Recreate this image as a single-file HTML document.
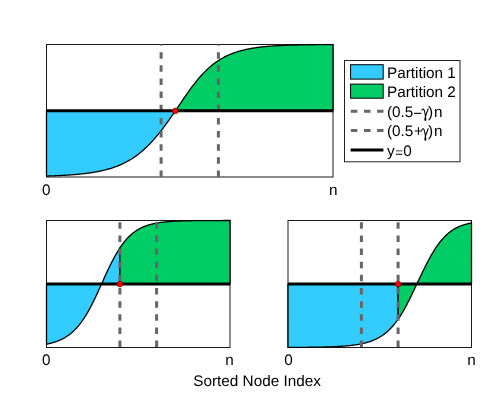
<!DOCTYPE html>
<html><head><meta charset="utf-8"><title>Partition figure</title>
<style>
html,body{margin:0;padding:0;background:#fff;}
body{width:498px;height:405px;overflow:hidden;font-family:"Liberation Sans",sans-serif;}
svg{display:block;}
</style></head><body>
<svg width="498" height="405" viewBox="0 0 498 405">
<rect width="498" height="405" fill="#fff"/>
<rect x="46.50" y="44.50" width="286.50" height="132.50" fill="#fff" stroke="#1a1a1a" stroke-width="1"/>
<path d="M46.50 110.75 L46.50 176.06 L47.31 176.03 L48.11 176.01 L48.92 175.98 L49.72 175.96 L50.53 175.93 L51.33 175.90 L52.14 175.87 L52.95 175.84 L53.75 175.81 L54.56 175.78 L55.36 175.74 L56.17 175.71 L56.98 175.67 L57.78 175.64 L58.59 175.60 L59.39 175.56 L60.20 175.52 L61.00 175.48 L61.81 175.44 L62.62 175.40 L63.42 175.35 L64.23 175.31 L65.03 175.26 L65.84 175.21 L66.64 175.16 L67.45 175.11 L68.26 175.06 L69.06 175.01 L69.87 174.95 L70.67 174.89 L71.48 174.83 L72.28 174.77 L73.09 174.71 L73.90 174.65 L74.70 174.58 L75.51 174.51 L76.31 174.44 L77.12 174.37 L77.93 174.30 L78.73 174.22 L79.54 174.14 L80.34 174.06 L81.15 173.97 L81.95 173.89 L82.76 173.80 L83.57 173.71 L84.37 173.61 L85.18 173.52 L85.98 173.42 L86.79 173.31 L87.59 173.21 L88.40 173.10 L89.21 172.99 L90.01 172.87 L90.82 172.75 L91.62 172.63 L92.43 172.50 L93.24 172.37 L94.04 172.24 L94.85 172.10 L95.65 171.95 L96.46 171.81 L97.26 171.66 L98.07 171.50 L98.88 171.34 L99.68 171.18 L100.49 171.01 L101.29 170.83 L102.10 170.65 L102.90 170.46 L103.71 170.27 L104.52 170.08 L105.32 169.87 L106.13 169.67 L106.93 169.45 L107.74 169.23 L108.55 169.00 L109.35 168.77 L110.16 168.53 L110.96 168.28 L111.77 168.02 L112.57 167.76 L113.38 167.49 L114.19 167.21 L114.99 166.93 L115.80 166.63 L116.60 166.33 L117.41 166.02 L118.21 165.70 L119.02 165.37 L119.83 165.03 L120.63 164.68 L121.44 164.33 L122.24 163.96 L123.05 163.58 L123.86 163.19 L124.66 162.79 L125.47 162.38 L126.27 161.96 L127.08 161.53 L127.88 161.09 L128.69 160.63 L129.50 160.17 L130.30 159.69 L131.11 159.20 L131.91 158.69 L132.72 158.18 L133.52 157.65 L134.33 157.10 L135.14 156.55 L135.94 155.97 L136.75 155.39 L137.55 154.79 L138.36 154.18 L139.16 153.55 L139.97 152.91 L140.78 152.25 L141.58 151.58 L142.39 150.90 L143.19 150.19 L144.00 149.48 L144.81 148.75 L145.61 148.00 L146.42 147.24 L147.22 146.46 L148.03 145.66 L148.83 144.85 L149.64 144.03 L150.45 143.19 L151.25 142.33 L152.06 141.46 L152.86 140.58 L153.67 139.67 L154.47 138.76 L155.28 137.83 L156.09 136.88 L156.89 135.92 L157.70 134.95 L158.50 133.96 L159.31 132.96 L160.12 131.94 L160.92 130.91 L161.73 129.87 L162.53 128.82 L163.34 127.76 L164.14 126.68 L164.95 125.59 L165.76 124.50 L166.56 123.39 L167.37 122.28 L168.17 121.15 L168.98 120.02 L169.78 118.88 L170.59 117.73 L171.40 116.58 L172.20 115.42 L173.01 114.26 L173.81 113.09 L174.62 111.92 L175.43 110.75 L175.43 110.75 Z" fill="#33ccff" stroke="#000" stroke-width="1.3" stroke-linejoin="round"/>
<path d="M175.43 110.75 L175.43 110.75 L176.41 109.31 L177.39 107.87 L178.38 106.42 L179.36 104.96 L180.35 103.51 L181.33 102.06 L182.32 100.61 L183.30 99.16 L184.29 97.72 L185.27 96.29 L186.26 94.86 L187.24 93.45 L188.23 92.06 L189.21 90.68 L190.20 89.31 L191.18 87.97 L192.17 86.65 L193.15 85.34 L194.14 84.06 L195.12 82.80 L196.11 81.57 L197.09 80.36 L198.08 79.17 L199.06 78.01 L200.05 76.88 L201.03 75.77 L202.02 74.69 L203.00 73.64 L203.99 72.62 L204.97 71.62 L205.96 70.65 L206.94 69.70 L207.92 68.78 L208.91 67.89 L209.89 67.03 L210.88 66.19 L211.86 65.37 L212.85 64.58 L213.83 63.82 L214.82 63.08 L215.80 62.37 L216.79 61.67 L217.77 61.01 L218.76 60.36 L219.74 59.74 L220.73 59.13 L221.71 58.55 L222.70 57.99 L223.68 57.45 L224.67 56.93 L225.65 56.43 L226.64 55.94 L227.62 55.48 L228.61 55.03 L229.59 54.60 L230.58 54.18 L231.56 53.78 L232.55 53.40 L233.53 53.03 L234.52 52.67 L235.50 52.33 L236.49 52.00 L237.47 51.69 L238.46 51.39 L239.44 51.09 L240.42 50.82 L241.41 50.55 L242.39 50.29 L243.38 50.05 L244.36 49.81 L245.35 49.58 L246.33 49.37 L247.32 49.16 L248.30 48.96 L249.29 48.77 L250.27 48.58 L251.26 48.41 L252.24 48.24 L253.23 48.08 L254.21 47.92 L255.20 47.77 L256.18 47.63 L257.17 47.50 L258.15 47.37 L259.14 47.24 L260.12 47.12 L261.11 47.01 L262.09 46.90 L263.08 46.80 L264.06 46.69 L265.05 46.60 L266.03 46.51 L267.02 46.42 L268.00 46.34 L268.99 46.26 L269.97 46.18 L270.95 46.10 L271.94 46.03 L272.92 45.97 L273.91 45.90 L274.89 45.84 L275.88 45.78 L276.86 45.73 L277.85 45.67 L278.83 45.62 L279.82 45.57 L280.80 45.52 L281.79 45.48 L282.77 45.44 L283.76 45.39 L284.74 45.36 L285.73 45.32 L286.71 45.28 L287.70 45.25 L288.68 45.21 L289.67 45.18 L290.65 45.15 L291.64 45.12 L292.62 45.10 L293.61 45.07 L294.59 45.04 L295.58 45.02 L296.56 45.00 L297.55 44.98 L298.53 44.95 L299.52 44.93 L300.50 44.92 L301.49 44.90 L302.47 44.88 L303.45 44.86 L304.44 44.85 L305.42 44.83 L306.41 44.82 L307.39 44.80 L308.38 44.79 L309.36 44.78 L310.35 44.76 L311.33 44.75 L312.32 44.74 L313.30 44.73 L314.29 44.72 L315.27 44.71 L316.26 44.70 L317.24 44.69 L318.23 44.68 L319.21 44.68 L320.20 44.67 L321.18 44.66 L322.17 44.65 L323.15 44.65 L324.14 44.64 L325.12 44.63 L326.11 44.63 L327.09 44.62 L328.08 44.62 L329.06 44.61 L330.05 44.61 L331.03 44.60 L332.02 44.60 L333.00 44.59 L333.00 110.75 Z" fill="#00cc66" stroke="#000" stroke-width="1.3" stroke-linejoin="round"/>
<line x1="161.10" y1="177.00" x2="161.10" y2="44.50" stroke="#666666" stroke-width="3" stroke-dasharray="6.5 6.65"/>
<line x1="218.40" y1="177.00" x2="218.40" y2="44.50" stroke="#666666" stroke-width="3" stroke-dasharray="6.5 6.65"/>
<line x1="46.50" y1="110.75" x2="333.00" y2="110.75" stroke="#000" stroke-width="3"/>
<circle cx="175.43" cy="110.85" r="2.85" fill="#ff0000" stroke="#600" stroke-width="0.6"/>
<rect x="46.50" y="220.50" width="183.50" height="127.00" fill="#fff" stroke="#1a1a1a" stroke-width="1"/>
<path d="M46.50 284.00 L46.50 344.18 L46.96 344.09 L47.42 343.99 L47.88 343.90 L48.34 343.80 L48.79 343.69 L49.25 343.59 L49.71 343.48 L50.17 343.37 L50.63 343.25 L51.09 343.14 L51.55 343.01 L52.01 342.89 L52.46 342.76 L52.92 342.63 L53.38 342.49 L53.84 342.35 L54.30 342.21 L54.76 342.06 L55.22 341.91 L55.67 341.76 L56.13 341.60 L56.59 341.43 L57.05 341.26 L57.51 341.09 L57.97 340.91 L58.43 340.73 L58.89 340.54 L59.34 340.35 L59.80 340.15 L60.26 339.95 L60.72 339.74 L61.18 339.52 L61.64 339.30 L62.10 339.07 L62.56 338.84 L63.02 338.60 L63.47 338.35 L63.93 338.10 L64.39 337.84 L64.85 337.58 L65.31 337.30 L65.77 337.02 L66.23 336.74 L66.69 336.44 L67.14 336.14 L67.60 335.83 L68.06 335.51 L68.52 335.18 L68.98 334.85 L69.44 334.51 L69.90 334.15 L70.36 333.79 L70.81 333.42 L71.27 333.04 L71.73 332.66 L72.19 332.26 L72.65 331.85 L73.11 331.43 L73.57 331.01 L74.03 330.57 L74.48 330.12 L74.94 329.66 L75.40 329.20 L75.86 328.72 L76.32 328.23 L76.78 327.72 L77.24 327.21 L77.70 326.69 L78.15 326.15 L78.61 325.61 L79.07 325.05 L79.53 324.48 L79.99 323.89 L80.45 323.30 L80.91 322.69 L81.37 322.08 L81.82 321.45 L82.28 320.80 L82.74 320.15 L83.20 319.48 L83.66 318.80 L84.12 318.11 L84.58 317.40 L85.03 316.69 L85.49 315.96 L85.95 315.22 L86.41 314.46 L86.87 313.69 L87.33 312.92 L87.79 312.13 L88.25 311.32 L88.71 310.51 L89.16 309.68 L89.62 308.85 L90.08 308.00 L90.54 307.14 L91.00 306.27 L91.46 305.39 L91.92 304.50 L92.38 303.60 L92.83 302.69 L93.29 301.76 L93.75 300.83 L94.21 299.90 L94.67 298.95 L95.13 297.99 L95.59 297.03 L96.05 296.06 L96.50 295.08 L96.96 294.10 L97.42 293.11 L97.88 292.11 L98.34 291.11 L98.80 290.10 L99.26 289.09 L99.72 288.08 L100.17 287.06 L100.63 286.04 L101.09 285.02 L101.55 284.00 L102.01 282.98 L102.47 281.95 L102.93 280.93 L103.38 279.91 L103.84 278.89 L104.30 277.88 L104.76 276.86 L105.22 275.85 L105.68 274.85 L106.14 273.85 L106.60 272.85 L107.06 271.86 L107.51 270.88 L107.97 269.90 L108.43 268.93 L108.89 267.97 L109.35 267.02 L109.81 266.07 L110.27 265.13 L110.72 264.20 L111.18 263.28 L111.64 262.37 L112.10 261.47 L112.56 260.58 L113.02 259.70 L113.48 258.84 L113.94 257.98 L114.39 257.13 L114.85 256.30 L115.31 255.47 L115.77 254.66 L116.23 253.86 L116.69 253.08 L117.15 252.30 L117.61 251.54 L118.06 250.79 L118.52 250.05 L118.98 249.33 L119.44 248.61 L119.90 247.91 L119.90 284.00 Z" fill="#33ccff" stroke="#000" stroke-width="1.3" stroke-linejoin="round"/>
<path d="M119.90 284.00 L119.90 247.91 L120.59 246.89 L121.28 245.89 L121.96 244.92 L122.65 243.98 L123.34 243.07 L124.03 242.19 L124.72 241.33 L125.41 240.50 L126.09 239.70 L126.78 238.92 L127.47 238.18 L128.16 237.45 L128.85 236.75 L129.53 236.08 L130.22 235.43 L130.91 234.81 L131.60 234.20 L132.29 233.62 L132.97 233.06 L133.66 232.53 L134.35 232.01 L135.04 231.51 L135.73 231.04 L136.41 230.58 L137.10 230.14 L137.79 229.72 L138.48 229.31 L139.17 228.92 L139.86 228.55 L140.54 228.19 L141.23 227.85 L141.92 227.52 L142.61 227.21 L143.30 226.91 L143.98 226.62 L144.67 226.34 L145.36 226.08 L146.05 225.83 L146.74 225.59 L147.43 225.36 L148.11 225.13 L148.80 224.92 L149.49 224.72 L150.18 224.53 L150.87 224.34 L151.55 224.17 L152.24 224.00 L152.93 223.84 L153.62 223.68 L154.31 223.54 L154.99 223.40 L155.68 223.26 L156.37 223.14 L157.06 223.01 L157.75 222.90 L158.44 222.79 L159.12 222.68 L159.81 222.58 L160.50 222.48 L161.19 222.39 L161.88 222.30 L162.56 222.22 L163.25 222.14 L163.94 222.06 L164.63 221.99 L165.32 221.92 L166.00 221.85 L166.69 221.79 L167.38 221.73 L168.07 221.67 L168.76 221.62 L169.44 221.56 L170.13 221.51 L170.82 221.47 L171.51 221.42 L172.20 221.38 L172.89 221.34 L173.57 221.30 L174.26 221.26 L174.95 221.23 L175.64 221.19 L176.33 221.16 L177.01 221.13 L177.70 221.10 L178.39 221.07 L179.08 221.04 L179.77 221.02 L180.45 220.99 L181.14 220.97 L181.83 220.95 L182.52 220.93 L183.21 220.91 L183.90 220.89 L184.58 220.87 L185.27 220.85 L185.96 220.84 L186.65 220.82 L187.34 220.80 L188.02 220.79 L188.71 220.78 L189.40 220.76 L190.09 220.75 L190.78 220.74 L191.47 220.73 L192.15 220.72 L192.84 220.71 L193.53 220.70 L194.22 220.69 L194.91 220.68 L195.59 220.67 L196.28 220.66 L196.97 220.65 L197.66 220.65 L198.35 220.64 L199.03 220.63 L199.72 220.63 L200.41 220.62 L201.10 220.62 L201.79 220.61 L202.48 220.61 L203.16 220.60 L203.85 220.60 L204.54 220.59 L205.23 220.59 L205.92 220.58 L206.60 220.58 L207.29 220.58 L207.98 220.57 L208.67 220.57 L209.36 220.56 L210.04 220.56 L210.73 220.56 L211.42 220.56 L212.11 220.55 L212.80 220.55 L213.49 220.55 L214.17 220.55 L214.86 220.54 L215.55 220.54 L216.24 220.54 L216.93 220.54 L217.61 220.54 L218.30 220.53 L218.99 220.53 L219.68 220.53 L220.37 220.53 L221.05 220.53 L221.74 220.53 L222.43 220.53 L223.12 220.52 L223.81 220.52 L224.50 220.52 L225.18 220.52 L225.87 220.52 L226.56 220.52 L227.25 220.52 L227.94 220.52 L228.62 220.52 L229.31 220.52 L230.00 220.52 L230.00 284.00 Z" fill="#00cc66" stroke="#000" stroke-width="1.3" stroke-linejoin="round"/>
<line x1="119.90" y1="347.10" x2="119.90" y2="220.50" stroke="#666666" stroke-width="3" stroke-dasharray="6.5 6.65"/>
<line x1="156.60" y1="347.10" x2="156.60" y2="220.50" stroke="#666666" stroke-width="3" stroke-dasharray="6.5 6.65"/>
<line x1="46.50" y1="284.00" x2="230.00" y2="284.00" stroke="#000" stroke-width="3"/>
<circle cx="119.90" cy="284.10" r="2.85" fill="#ff0000" stroke="#600" stroke-width="0.6"/>
<rect x="288.00" y="220.50" width="183.50" height="127.00" fill="#fff" stroke="#1a1a1a" stroke-width="1"/>
<path d="M288.00 284.00 L288.00 347.41 L288.69 347.41 L289.38 347.41 L290.06 347.40 L290.75 347.40 L291.44 347.40 L292.13 347.39 L292.82 347.39 L293.50 347.39 L294.19 347.38 L294.88 347.38 L295.57 347.38 L296.26 347.37 L296.95 347.37 L297.63 347.36 L298.32 347.36 L299.01 347.35 L299.70 347.35 L300.39 347.34 L301.07 347.34 L301.76 347.33 L302.45 347.33 L303.14 347.32 L303.83 347.32 L304.51 347.31 L305.20 347.31 L305.89 347.30 L306.58 347.29 L307.27 347.29 L307.96 347.28 L308.64 347.27 L309.33 347.26 L310.02 347.26 L310.71 347.25 L311.40 347.24 L312.08 347.23 L312.77 347.22 L313.46 347.21 L314.15 347.20 L314.84 347.19 L315.52 347.18 L316.21 347.17 L316.90 347.16 L317.59 347.15 L318.28 347.13 L318.97 347.12 L319.65 347.11 L320.34 347.09 L321.03 347.08 L321.72 347.06 L322.41 347.05 L323.09 347.03 L323.78 347.02 L324.47 347.00 L325.16 346.98 L325.85 346.96 L326.54 346.94 L327.22 346.92 L327.91 346.90 L328.60 346.88 L329.29 346.86 L329.98 346.83 L330.66 346.81 L331.35 346.79 L332.04 346.76 L332.73 346.73 L333.42 346.70 L334.10 346.67 L334.79 346.64 L335.48 346.61 L336.17 346.58 L336.86 346.55 L337.55 346.51 L338.23 346.47 L338.92 346.43 L339.61 346.39 L340.30 346.35 L340.99 346.31 L341.67 346.26 L342.36 346.22 L343.05 346.17 L343.74 346.12 L344.43 346.07 L345.11 346.01 L345.80 345.96 L346.49 345.90 L347.18 345.83 L347.87 345.77 L348.56 345.70 L349.24 345.63 L349.93 345.56 L350.62 345.49 L351.31 345.41 L352.00 345.33 L352.68 345.24 L353.37 345.16 L354.06 345.07 L354.75 344.97 L355.44 344.87 L356.12 344.77 L356.81 344.66 L357.50 344.55 L358.19 344.43 L358.88 344.31 L359.56 344.19 L360.25 344.06 L360.94 343.92 L361.63 343.78 L362.32 343.63 L363.01 343.48 L363.69 343.32 L364.38 343.15 L365.07 342.98 L365.76 342.80 L366.45 342.61 L367.13 342.41 L367.82 342.21 L368.51 342.00 L369.20 341.78 L369.89 341.55 L370.57 341.31 L371.26 341.07 L371.95 340.81 L372.64 340.54 L373.33 340.26 L374.02 339.97 L374.70 339.67 L375.39 339.36 L376.08 339.04 L376.77 338.70 L377.46 338.35 L378.14 337.98 L378.83 337.60 L379.52 337.21 L380.21 336.80 L380.90 336.38 L381.59 335.94 L382.27 335.48 L382.96 335.01 L383.65 334.52 L384.34 334.01 L385.03 333.48 L385.71 332.93 L386.40 332.36 L387.09 331.78 L387.78 331.17 L388.47 330.54 L389.15 329.89 L389.84 329.21 L390.53 328.52 L391.22 327.80 L391.91 327.05 L392.60 326.28 L393.28 325.49 L393.97 324.67 L394.66 323.83 L395.35 322.96 L396.04 322.07 L396.72 321.14 L397.41 320.20 L398.10 319.22 L398.10 284.00 Z" fill="#33ccff" stroke="#000" stroke-width="1.3" stroke-linejoin="round"/>
<path d="M398.10 284.00 L398.10 319.22 L398.56 318.56 L399.02 317.88 L399.48 317.19 L399.94 316.49 L400.39 315.78 L400.85 315.05 L401.31 314.32 L401.77 313.57 L402.23 312.81 L402.69 312.04 L403.15 311.25 L403.61 310.46 L404.06 309.65 L404.52 308.84 L404.98 308.01 L405.44 307.17 L405.90 306.32 L406.36 305.46 L406.82 304.59 L407.27 303.71 L407.73 302.82 L408.19 301.92 L408.65 301.02 L409.11 300.10 L409.57 299.18 L410.03 298.25 L410.49 297.31 L410.94 296.36 L411.40 295.41 L411.86 294.46 L412.32 293.50 L412.78 292.53 L413.24 291.56 L413.70 290.59 L414.16 289.62 L414.62 288.65 L415.07 287.68 L415.53 286.71 L415.99 285.74 L416.45 284.77 L416.91 283.81 L417.37 282.85 L417.83 281.88 L418.28 280.92 L418.74 279.96 L419.20 279.00 L419.66 278.03 L420.12 277.07 L420.58 276.11 L421.04 275.16 L421.50 274.20 L421.95 273.25 L422.41 272.31 L422.87 271.36 L423.33 270.42 L423.79 269.49 L424.25 268.56 L424.71 267.63 L425.17 266.72 L425.62 265.81 L426.08 264.90 L426.54 264.00 L427.00 263.11 L427.46 262.23 L427.92 261.36 L428.38 260.49 L428.84 259.63 L429.30 258.78 L429.75 257.95 L430.21 257.12 L430.67 256.30 L431.13 255.49 L431.59 254.69 L432.05 253.90 L432.51 253.12 L432.97 252.35 L433.42 251.60 L433.88 250.85 L434.34 250.12 L434.80 249.40 L435.26 248.69 L435.72 247.99 L436.18 247.30 L436.63 246.62 L437.09 245.96 L437.55 245.31 L438.01 244.66 L438.47 244.04 L438.93 243.42 L439.39 242.81 L439.85 242.22 L440.31 241.64 L440.76 241.07 L441.22 240.51 L441.68 239.96 L442.14 239.43 L442.60 238.90 L443.06 238.39 L443.52 237.89 L443.98 237.40 L444.43 236.92 L444.89 236.45 L445.35 236.00 L445.81 235.55 L446.27 235.11 L446.73 234.69 L447.19 234.27 L447.64 233.87 L448.10 233.47 L448.56 233.09 L449.02 232.71 L449.48 232.35 L449.94 231.99 L450.40 231.64 L450.86 231.30 L451.31 230.98 L451.77 230.65 L452.23 230.34 L452.69 230.04 L453.15 229.74 L453.61 229.46 L454.07 229.18 L454.53 228.90 L454.99 228.64 L455.44 228.38 L455.90 228.13 L456.36 227.89 L456.82 227.65 L457.28 227.43 L457.74 227.20 L458.20 226.99 L458.65 226.78 L459.11 226.58 L459.57 226.38 L460.03 226.19 L460.49 226.00 L460.95 225.82 L461.41 225.65 L461.87 225.48 L462.32 225.31 L462.78 225.15 L463.24 225.00 L463.70 224.85 L464.16 224.70 L464.62 224.56 L465.08 224.43 L465.54 224.29 L466.00 224.17 L466.45 224.04 L466.91 223.92 L467.37 223.81 L467.83 223.69 L468.29 223.59 L468.75 223.48 L469.21 223.38 L469.66 223.28 L470.12 223.18 L470.58 223.09 L471.04 223.00 L471.50 222.92 L471.50 284.00 Z" fill="#00cc66" stroke="#000" stroke-width="1.3" stroke-linejoin="round"/>
<line x1="361.40" y1="347.10" x2="361.40" y2="220.50" stroke="#666666" stroke-width="3" stroke-dasharray="6.5 6.65"/>
<line x1="398.10" y1="347.10" x2="398.10" y2="220.50" stroke="#666666" stroke-width="3" stroke-dasharray="6.5 6.65"/>
<line x1="288.00" y1="284.00" x2="471.50" y2="284.00" stroke="#000" stroke-width="3"/>
<circle cx="398.10" cy="284.10" r="2.85" fill="#ff0000" stroke="#600" stroke-width="0.6"/>
<rect x="344.5" y="60.5" width="115.5" height="101.3" fill="#fff" stroke="#222" stroke-width="1"/>
<rect x="350.6" y="64.7" width="32.6" height="14.4" fill="#33ccff" stroke="#000" stroke-width="1"/>
<rect x="350.6" y="84.1" width="32.6" height="14.1" fill="#00cc66" stroke="#000" stroke-width="1"/>
<line x1="350.85" y1="111.2" x2="383.5" y2="111.2" stroke="#666666" stroke-width="3" stroke-dasharray="6.5 6.65"/>
<line x1="350.85" y1="130.6" x2="383.5" y2="130.6" stroke="#666666" stroke-width="3" stroke-dasharray="6.5 6.65"/>
<line x1="350.6" y1="150.0" x2="383.4" y2="150.0" stroke="#000" stroke-width="3"/>
<g font-family="'Liberation Sans', sans-serif" font-size="15.30" fill="#000" style="filter:grayscale(1)" text-rendering="geometricPrecision"><text x="387.00" y="77.50" text-anchor="start" >Partition 1</text>
<text x="387.00" y="96.80" text-anchor="start" >Partition 2</text>
<text x="387.00" y="116.50" text-anchor="start" >(0.5</text>
<rect x="414.1" y="112.8" width="7.2" height="1.1" fill="#000"/>
<path transform="translate(421.80 116.70)" d="M0.1,-6.6 C0.5,-7.9 1.6,-8.1 2.2,-6.9 C3.0,-5.2 3.4,-2.5 3.7,0.2 M6.4,-7.8 C5.5,-5.5 4.3,-2.5 3.7,-0.3 C3.2,1.5 3.0,2.8 3.1,3.3 C3.2,3.9 3.9,3.9 4.0,3.2 C4.1,2.3 3.9,1.0 3.7,0.0" fill="none" stroke="#000" stroke-width="1.05" stroke-linecap="round" stroke-linejoin="round"/>
<text x="428.00" y="116.50" text-anchor="start" >)</text>
<text x="433.90" y="116.50" text-anchor="start" >n</text>
<text x="387.00" y="136.30" text-anchor="start" >(0.5</text>
<text x="413.90" y="136.30" text-anchor="start" >+</text>
<path transform="translate(421.80 136.50)" d="M0.1,-6.6 C0.5,-7.9 1.6,-8.1 2.2,-6.9 C3.0,-5.2 3.4,-2.5 3.7,0.2 M6.4,-7.8 C5.5,-5.5 4.3,-2.5 3.7,-0.3 C3.2,1.5 3.0,2.8 3.1,3.3 C3.2,3.9 3.9,3.9 4.0,3.2 C4.1,2.3 3.9,1.0 3.7,0.0" fill="none" stroke="#000" stroke-width="1.05" stroke-linecap="round" stroke-linejoin="round"/>
<text x="428.00" y="136.30" text-anchor="start" >)</text>
<text x="433.90" y="136.30" text-anchor="start" >n</text>
<text x="387.00" y="156.10" text-anchor="start" >y</text>
<text x="395.20" y="156.60" text-anchor="start" font-size="13.5">=</text>
<text x="403.30" y="156.10" text-anchor="start" >0</text>
<text x="46.35" y="194.70" text-anchor="middle" >0</text>
<text x="333.30" y="194.70" text-anchor="middle" >n</text>
<text x="46.35" y="364.70" text-anchor="middle" >0</text>
<text x="229.60" y="364.70" text-anchor="middle" >n</text>
<text x="288.40" y="364.70" text-anchor="middle" >0</text>
<text x="471.50" y="364.70" text-anchor="middle" >n</text>
<text x="193.30" y="385.80" text-anchor="start" >Sorted Node Index</text></g>
</svg>
</body></html>
